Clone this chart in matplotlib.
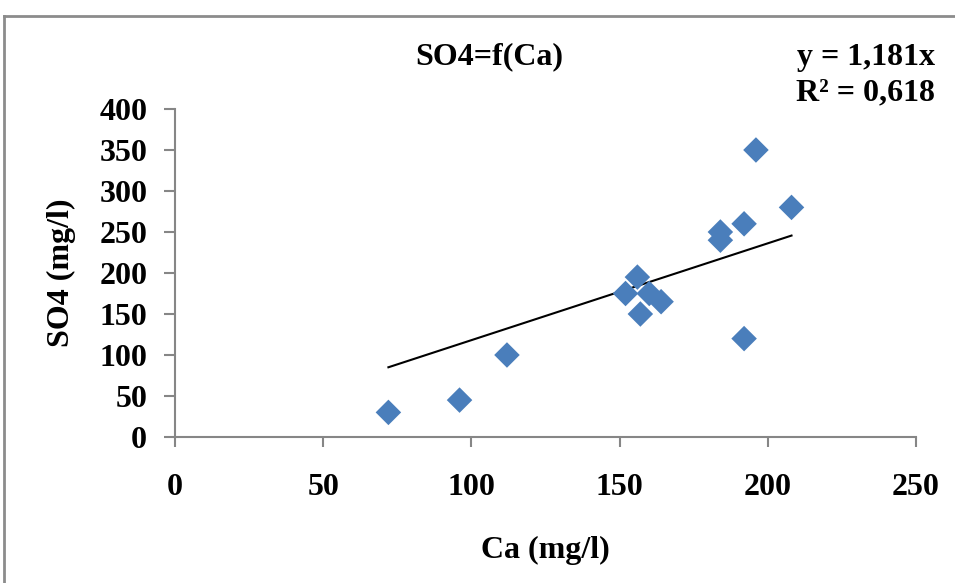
import matplotlib
matplotlib.use("Agg")
import matplotlib.pyplot as plt
from matplotlib.lines import Line2D
import numpy as np

# Calcium vs sulfate concentrations (mg/l)
ca = [72, 96, 112, 152, 156, 157, 160, 164, 184, 184, 192, 192, 196, 208]
so4 = [30, 45, 100, 175, 195, 150, 175, 165, 250, 240, 260, 120, 350, 280]

# Linear trend through the origin
slope = 1.181
r2 = 0.618

x_ticks = [0, 50, 100, 150, 200, 250]
y_ticks = [0, 50, 100, 150, 200, 250, 300, 350, 400]

plt.rcParams["font.family"] = ["Liberation Serif", "DejaVu Serif"]
plt.rcParams["font.weight"] = "bold"

fig = plt.figure(figsize=(9.55, 5.83), dpi=100)
ax = fig.add_axes([175 / 955, 1 - 437 / 583, (916 - 175) / 955, (437 - 109) / 583])

axis_grey = "#868686"

ax.scatter(ca, so4, marker="D", s=13 ** 2, color="#4a7ebb",
           edgecolors="none", zorder=3)

xt = np.array([min(ca), max(ca)])
ax.plot(xt, slope * xt, color="black", lw=1.5, zorder=2)

ax.set_xlim(0, 250)
ax.set_ylim(0, 400)
ax.set_xticks(x_ticks)
ax.set_yticks(y_ticks)
ax.set_xticklabels([str(v) for v in x_ticks], fontsize=23, fontweight="bold")
ax.set_yticklabels([str(v) for v in y_ticks], fontsize=23, fontweight="bold")

for side in ("top", "right"):
    ax.spines[side].set_visible(False)
for side in ("left", "bottom"):
    ax.spines[side].set_color(axis_grey)
    ax.spines[side].set_linewidth(1.5)
ax.tick_params(axis="x", direction="out", length=7, width=1.5, color=axis_grey, pad=19)
ax.tick_params(axis="y", direction="out", length=8, width=1.5, color=axis_grey, pad=12)

ax.set_xlabel("Ca (mg/l)", fontsize=23, fontweight="bold", labelpad=24)
ax.set_ylabel("SO4 (mg/l)", fontsize=23, fontweight="bold", labelpad=17)

fig.text(489 / 955, 1 - 57 / 583, "SO4=f(Ca)", ha="center", va="center",
         fontsize=23, fontweight="bold")
fig.text(935 / 955, 1 - 58 / 583, f"y = {slope:.3f}x".replace(".", ","),
         ha="right", va="center", fontsize=23, fontweight="bold")
fig.text(935 / 955, 1 - 93 / 583, f"R² = {r2:.3f}".replace(".", ","),
         ha="right", va="center", fontsize=23, fontweight="bold")

# Chart-area border (left and top edges)
fig.add_artist(Line2D([4 / 955, 4 / 955], [0, 1 - 16 / 583], transform=fig.transFigure,
                      color="#8c8c8c", lw=2))
fig.add_artist(Line2D([4 / 955, 1], [1 - 16 / 583, 1 - 16 / 583], transform=fig.transFigure,
                      color="#8c8c8c", lw=2))

fig.savefig("out.png", dpi=100)
